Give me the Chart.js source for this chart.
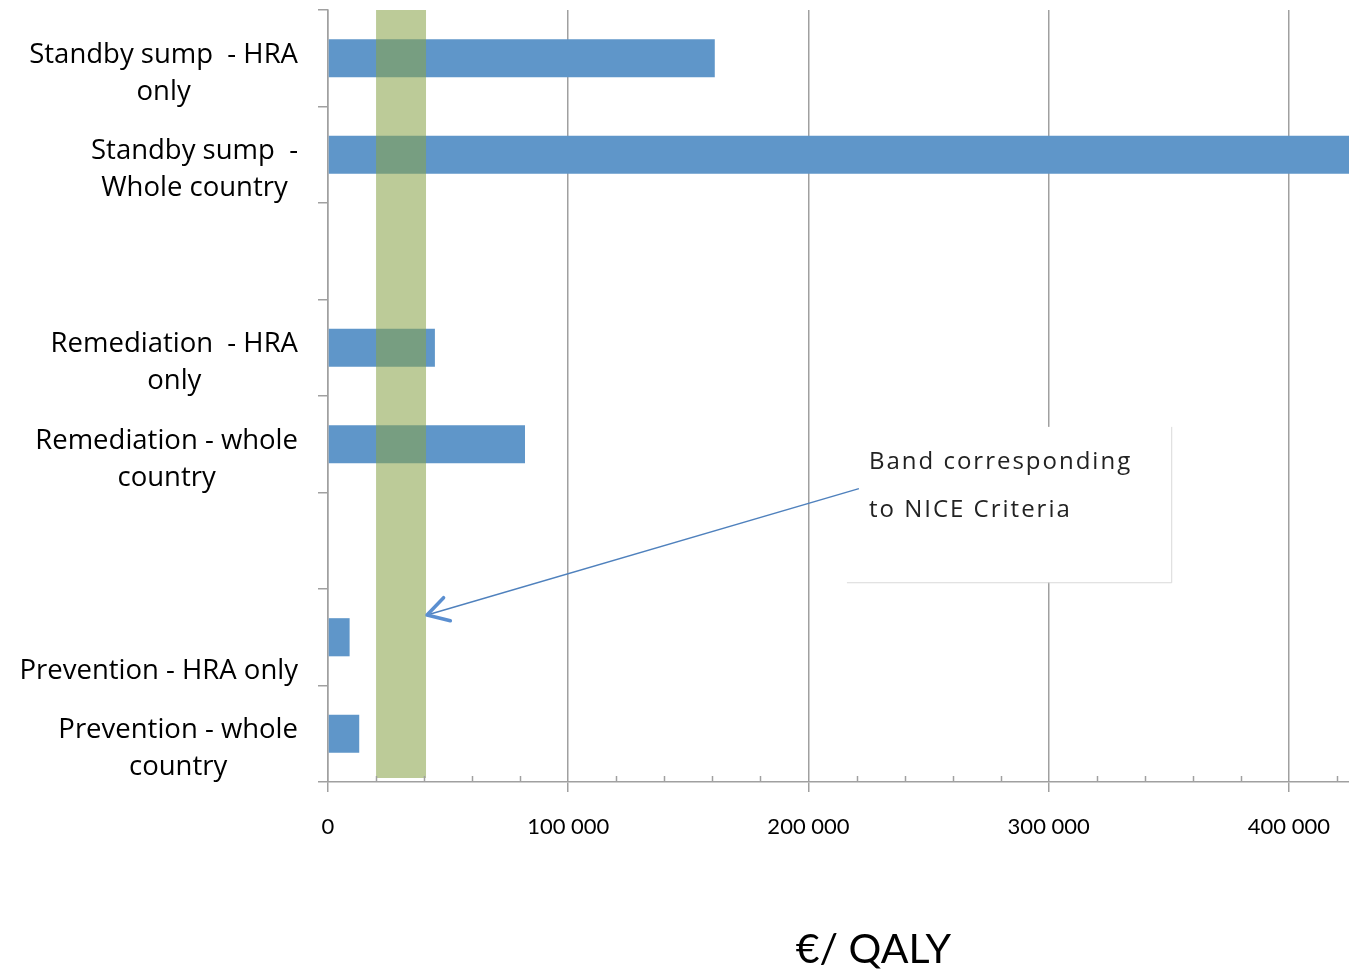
<!DOCTYPE html>
<html lang="en">
<head>
  <meta charset="UTF-8">
  <title>Cost per QALY</title>
  <script src="https://cdn.jsdelivr.net/npm/chart.js"></script>
  <style>
    html, body { margin: 0; padding: 0; background: #fff; overflow: hidden; }
    .chart-container { position: relative; width: 1349px; height: 973px; }
    canvas { display: block; }
  </style>
</head>
<body>
  <div class="chart-container">
    <canvas id="qalyChart"></canvas>
  </div>

  <script>
    // Categories (empty strings are spacer rows between the groups)
    const categories = [
      ['Standby sump  - HRA', 'only'],
      ['Standby sump  -', 'Whole country'],
      '',
      ['Remediation  - HRA', 'only'],
      ['Remediation - whole', 'country'],
      '',
      ['', 'Prevention - HRA only'],
      ['Prevention - whole', 'country']
    ];

    // Cost per QALY in euros
    const costPerQaly = [161000, 480000, null, 44500, 82000, null, 9000, 13000];

    // Axis range and ticks
    const xMin = 0;
    const xMax = 425000;
    const majorTicks = [0, 100000, 200000, 300000, 400000];
    const minorStep = 20000;

    // NICE criteria band (euros / QALY)
    const bandStart = 20000;
    const bandEnd = 40800;

    const axisGray = '#a0a0a0';
    const labelFont = '"Open Sans", sans-serif';
    const tickFont = 'Lato, sans-serif';

    function formatThousands(v) {
      return String(v).replace(/\B(?=(\d{3})+(?!\d))/g, ' ');
    }

    // Multi-line category labels, lines centred within each block, block right-aligned to the axis
    const categoryLabels = {
      id: 'categoryLabels',
      afterDraw(chart) {
        const ctx = chart.ctx;
        const y = chart.scales.y;
        const right = chart.chartArea.left - 30;
        const lineHeight = 37;
        ctx.save();
        ctx.font = '27.5px ' + labelFont;
        ctx.fillStyle = '#000';
        ctx.textAlign = 'center';
        ctx.textBaseline = 'alphabetic';
        categories.forEach((label, i) => {
          const lines = Array.isArray(label) ? label : [label];
          const width = Math.max(...lines.map(l => ctx.measureText(l).width));
          const cx = right - width / 2;
          const mid = y.getPixelForValue(i) + 23;
          lines.forEach((line, k) => {
            ctx.fillText(line, cx, mid + (k - (lines.length - 1) / 2) * lineHeight);
          });
        });
        ctx.restore();
      }
    };

    // Minor tick marks on the value axis
    const minorTicks = {
      id: 'minorTicks',
      afterDraw(chart) {
        const ctx = chart.ctx;
        const x = chart.scales.x;
        const bottom = chart.chartArea.bottom;
        ctx.save();
        ctx.strokeStyle = axisGray;
        ctx.lineWidth = 1.5;
        for (let v = xMin + minorStep; v <= xMax; v += minorStep) {
          if (majorTicks.includes(v)) continue;
          const px = Math.round(x.getPixelForValue(v)) + 0.5;
          ctx.beginPath();
          ctx.moveTo(px, bottom);
          ctx.lineTo(px, bottom - 6);
          ctx.stroke();
        }
        ctx.restore();
      }
    };

    // Translucent band marking the NICE threshold range
    const niceBand = {
      id: 'niceBand',
      afterDatasetsDraw(chart) {
        const ctx = chart.ctx;
        const x = chart.scales.x;
        const area = chart.chartArea;
        const x0 = x.getPixelForValue(bandStart);
        const x1 = x.getPixelForValue(bandEnd);
        ctx.save();
        ctx.fillStyle = 'rgba(137, 163, 74, 0.57)';
        ctx.fillRect(x0, area.top, x1 - x0, area.bottom - 4 - area.top);
        ctx.restore();
      }
    };

    // Callout box with arrow pointing at the band, plus the axis title
    const callout = {
      id: 'callout',
      afterDraw(chart) {
        const ctx = chart.ctx;
        const x = chart.scales.x;
        const y = chart.scales.y;
        const area = chart.chartArea;

        const bx0 = x.getPixelForValue(216000);
        const bx1 = x.getPixelForValue(351000);
        const by0 = y.getPixelForValue(3.82);
        const by1 = y.getPixelForValue(5.43);

        ctx.save();
        ctx.fillStyle = '#fff';
        ctx.fillRect(bx0, by0, bx1 - bx0, by1 - by0);
        ctx.strokeStyle = '#d9d9d9';
        ctx.lineWidth = 1;
        ctx.beginPath();
        ctx.moveTo(bx1 + 0.5, by0);
        ctx.lineTo(bx1 + 0.5, by1 + 0.5);
        ctx.lineTo(bx0, by1 + 0.5);
        ctx.stroke();

        // arrow
        const sx = x.getPixelForValue(221000);
        const sy = y.getPixelForValue(4.46);
        const tx = x.getPixelForValue(bandEnd) + 1;
        const ty = y.getPixelForValue(5.77);
        ctx.strokeStyle = '#4f81bd';
        ctx.lineWidth = 1.5;
        ctx.beginPath();
        ctx.moveTo(sx, sy);
        ctx.lineTo(tx, ty);
        ctx.stroke();

        const ang = Math.atan2(sy - ty, sx - tx);
        const len = 24;
        const spread = Math.PI / 6;
        ctx.strokeStyle = '#5b8fd0';
        ctx.lineWidth = 3.5;
        ctx.lineCap = 'round';
        ctx.lineJoin = 'round';
        ctx.beginPath();
        ctx.moveTo(tx + len * Math.cos(ang + spread), ty + len * Math.sin(ang + spread));
        ctx.lineTo(tx, ty);
        ctx.lineTo(tx + len * Math.cos(ang - spread), ty + len * Math.sin(ang - spread));
        ctx.stroke();

        ctx.fillStyle = '#222';
        ctx.font = '24px "Open Sans", sans-serif';
        ctx.letterSpacing = '2px';
        ctx.textAlign = 'left';
        ctx.textBaseline = 'alphabetic';
        ctx.fillText('Band corresponding', bx0 + 22, by0 + 42);
        ctx.fillText('to NICE Criteria', bx0 + 22, by0 + 90);
        ctx.letterSpacing = '0px';

        ctx.fillStyle = '#000';
        ctx.font = '41px ' + tickFont;
        ctx.textAlign = 'center';
        ctx.fillText('€/ QALY', (area.left + area.right) / 2 + 35, 963);
        ctx.restore();
      }
    };

    new Chart(document.getElementById('qalyChart').getContext('2d'), {
      type: 'bar',
      data: {
        labels: categories,
        datasets: [{
          label: '€/ QALY',
          data: costPerQaly,
          backgroundColor: '#5f96c9',
          borderWidth: 0,
          categoryPercentage: 1,
          barPercentage: 0.395
        }]
      },
      options: {
        indexAxis: 'y',
        responsive: true,
        maintainAspectRatio: false,
        animation: false,
        layout: { padding: { top: 10, right: 0, left: 0, bottom: 0 } },
        plugins: {
          legend: { display: false },
          tooltip: { enabled: false }
        },
        scales: {
          x: {
            type: 'linear',
            min: xMin,
            max: xMax,
            afterBuildTicks(scale) { scale.ticks = majorTicks.map(v => ({ value: v })); },
            afterFit(scale) {
              scale.height = 191;
              scale.paddingLeft = 0;
              scale.paddingRight = 0;
            },
            ticks: {
              padding: 22,
              color: '#000',
              font: { family: tickFont, size: 22 },
              callback: v => formatThousands(v)
            },
            grid: { color: axisGray, lineWidth: 1.5, tickLength: 10 },
            border: { color: axisGray, width: 1.5 }
          },
          y: {
            type: 'category',
            offset: true,
            afterFit(scale) { scale.width = 328; },
            ticks: { display: false },
            grid: { drawOnChartArea: false, offset: true, color: axisGray, lineWidth: 1.5, tickLength: 10 },
            border: { color: axisGray, width: 1.5 }
          }
        }
      },
      plugins: [niceBand, minorTicks, callout, categoryLabels]
    });
  </script>
</body>
</html>
